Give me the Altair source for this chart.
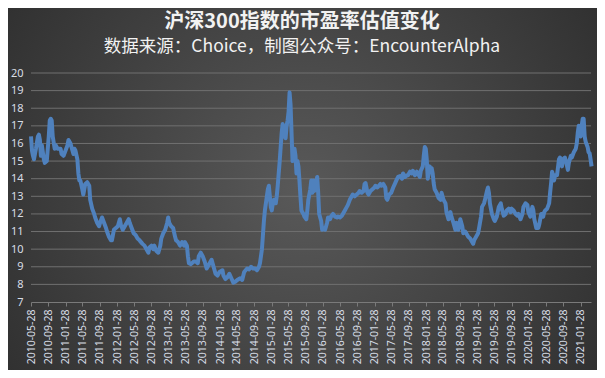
import altair as alt
import pandas as pd

# weekly observations: week offset from 2010-05-28 and P/E value
weeks = [0, 1, 2, 3, 5, 7, 8, 9, 10, 11, 13, 14, 16, 18, 19, 20, 21, 22, 24, 25, 27, 30, 31, 33, 35, 37, 38, 40,
         42, 43, 44, 45, 47, 48, 49, 50, 52, 53, 55, 57, 59, 60, 62, 64, 65, 67, 69, 70, 72, 74, 76, 77, 79, 81,
         82, 84, 86, 88, 90, 91, 93, 95, 97, 99, 100, 102, 104, 106, 108, 110, 113, 115, 117, 119, 120, 122, 124,
         125, 127, 129, 131, 132, 134, 136, 138, 139, 140, 142, 144, 146, 147, 149, 151, 153, 155, 156, 158, 159,
         160, 162, 165, 167, 169, 170, 172, 174, 176, 178, 181, 183, 185, 187, 189, 191, 194, 195, 197, 199, 201,
         203, 205, 207, 209, 212, 214, 216, 219, 221, 223, 225, 227, 229, 231, 232, 233, 234, 235, 236, 237, 238,
         239, 240, 241, 242, 243, 244, 245, 246, 247, 248, 249, 250, 251, 252, 253, 254, 255, 256, 257, 258, 259,
         260, 261, 262, 263, 264, 265, 266, 267, 268, 269, 270, 271, 272, 273, 274, 276, 277, 279, 280, 281, 283,
         284, 285, 286, 287, 288, 289, 290, 291, 292, 294, 295, 297, 298, 300, 301, 303, 304, 306, 308, 310, 311,
         313, 315, 316, 318, 320, 321, 323, 325, 326, 328, 330, 332, 333, 335, 337, 338, 339, 341, 342, 344, 346,
         348, 349, 351, 354, 355, 357, 359, 360, 361, 363, 365, 367, 369, 371, 372, 374, 376, 377, 379, 381, 382,
         384, 386, 387, 389, 391, 393, 394, 395, 397, 398, 399, 400, 401, 402, 403, 404, 405, 406, 407, 408, 409,
         411, 413, 415, 416, 418, 420, 421, 423, 425, 426, 428, 430, 431, 433, 435, 437, 438, 440, 442, 443, 445,
         447, 448, 449, 451, 453, 454, 456, 457, 459, 460, 462, 463, 464, 465, 467, 469, 470, 472, 474, 476, 477,
         479, 481, 482, 484, 486, 487, 489, 491, 493, 494, 496, 498, 499, 501, 503, 504, 506, 508, 509, 510, 512,
         514, 515, 517, 519, 520, 521, 523, 525, 526, 527, 528, 529, 530, 531, 533, 535, 536, 538, 539, 541, 542,
         544, 545, 547, 548, 550, 552, 553, 554, 555, 556, 557, 558, 559, 560, 561, 562, 564, 565, 566, 567, 568]

pe = [16.4, 15.6, 15.3, 15.1, 15.7, 16.4, 16.5, 16.2, 15.3, 15.9, 15.1, 14.9, 15.0, 16.4, 17.3, 17.4, 17.3, 16.4,
      15.7, 15.9, 15.7, 15.7, 15.4, 15.3, 15.6, 15.9, 16.2, 16.0, 15.6, 15.4, 15.7, 15.6, 15.1, 14.3, 13.9, 13.9,
      13.4, 13.1, 13.7, 13.8, 13.6, 12.8, 12.3, 12.0, 11.8, 11.5, 11.3, 11.5, 11.8, 11.5, 11.2, 11.0, 10.7, 10.5,
      10.5, 11.1, 11.2, 11.3, 11.7, 11.4, 11.1, 11.3, 11.5, 11.7, 11.5, 11.2, 10.9, 10.8, 10.6, 10.5, 10.3, 10.2,
      10.0, 9.8, 10.1, 10.2, 10.0, 10.2, 9.9, 9.8, 10.2, 10.6, 10.9, 11.1, 11.5, 11.8, 11.5, 11.3, 11.2, 10.7,
      10.5, 10.4, 10.2, 10.4, 10.2, 10.4, 10.2, 9.6, 9.2, 9.15, 9.3, 9.3, 9.2, 9.6, 9.8, 9.6, 9.3, 8.9, 9.2, 9.4,
      9.0, 8.6, 8.5, 8.7, 8.8, 8.5, 8.3, 8.4, 8.6, 8.35, 8.1, 8.15, 8.25, 8.35, 8.25, 8.7, 8.9, 8.85, 9.0, 8.9,
      8.9, 8.8, 9.0, 9.2, 9.6, 10.0, 10.8, 11.6, 12.2, 12.6, 13.0, 13.4, 13.6, 13.0, 12.4, 12.2, 12.6, 12.8, 12.6,
      12.6, 13.0, 13.6, 14.3, 15.0, 15.8, 16.6, 17.1, 16.9, 16.4, 16.3, 17.0, 17.3, 17.8, 18.9, 18.2, 16.6, 15.0,
      15.6, 15.7, 15.3, 14.3, 15.0, 14.7, 13.9, 13.0, 12.2, 12.0, 11.85, 11.7, 12.2, 12.8, 13.4, 13.9, 13.2, 13.9,
      13.3, 13.5, 13.85, 14.1, 13.2, 12.0, 11.6, 11.1, 11.2, 11.1, 11.5, 11.8, 11.7, 11.85, 12.0, 11.85, 11.8,
      11.85, 11.8, 11.9, 12.0, 12.2, 12.4, 12.5, 12.8, 13.0, 13.1, 13.0, 13.1, 13.2, 13.3, 13.2, 13.3, 13.7,
      13.75, 13.2, 13.1, 13.3, 13.4, 13.5, 13.6, 13.5, 13.7, 13.6, 13.7, 13.5, 12.9, 12.8, 13.1, 13.2, 13.5,
      13.75, 14.0, 14.1, 14.15, 14.0, 14.3, 14.1, 14.2, 14.2, 14.4, 14.3, 14.45, 14.2, 14.4, 14.2, 14.1, 14.45,
      14.7, 15.3, 15.8, 15.7, 15.1, 14.0, 14.3, 14.7, 14.5, 14.6, 14.3, 13.75, 13.4, 13.2, 12.9, 12.8, 13.2,
      12.8, 12.6, 12.1, 11.7, 12.1, 11.85, 11.5, 11.1, 11.5, 11.1, 11.7, 11.3, 10.9, 11.0, 10.8, 10.7, 10.6,
      10.4, 10.3, 10.5, 10.7, 10.9, 11.2, 11.85, 12.4, 12.6, 12.8, 13.3, 13.5, 13.2, 12.6, 12.0, 11.7, 11.6,
      11.85, 12.4, 12.6, 12.3, 11.9, 12.0, 12.2, 12.3, 12.1, 12.3, 12.2, 12.0, 11.9, 12.0, 11.7, 12.0, 12.4,
      12.6, 12.5, 12.1, 11.85, 12.4, 12.2, 11.7, 11.2, 11.2, 11.4, 12.0, 11.85, 12.1, 12.2, 12.3, 12.6, 13.2,
      13.75, 14.4, 14.2, 13.9, 14.2, 14.2, 15.1, 15.2, 14.7, 15.1, 15.2, 15.0, 14.5, 14.9, 15.3, 15.2, 15.5,
      15.7, 16.0, 16.6, 17.0, 16.7, 16.4, 17.0, 17.4, 17.4, 16.4, 16.1, 15.8, 15.5, 15.45, 15.1, 14.7]

tick_labels = ["2010-05-28", "2010-09-28", "2011-01-28", "2011-05-28", "2011-09-28", "2012-01-28",
               "2012-05-28", "2012-09-28", "2013-01-28", "2013-05-28", "2013-09-28", "2014-01-28",
               "2014-05-28", "2014-09-28", "2015-01-28", "2015-05-28", "2015-09-28", "2016-01-28",
               "2016-05-28", "2016-09-28", "2017-01-28", "2017-05-28", "2017-09-28", "2018-01-28",
               "2018-05-28", "2018-09-28", "2019-01-28", "2019-05-28", "2019-09-28", "2020-01-28",
               "2020-05-28", "2020-09-28", "2021-01-28"]

y_ticks = list(range(7, 21))

title_text = "沪深300指数的市盈率估值变化"
subtitle_text = "数据来源：Choice，制图公众号：EncounterAlpha"

start = pd.Timestamp("2010-05-28")
df = pd.DataFrame({
    "date": [start + pd.Timedelta(days=7 * w) for w in weeks],
    "pe": pe,
})


def to_dt(s):
    y, m, d = (int(p) for p in s.split("-"))
    return alt.DateTime(year=y, month=m, date=d)


x_values = [to_dt(s) for s in tick_labels]
x_domain = [to_dt("2010-05-28"), to_dt("2021-04-12")]

W, H = 560, 229
PL, PT, PR, PB = 23, 65, 6, 68
CX = 302 - 8 - PL  # horizontal centre of the page, in plot coordinates

y_scale = alt.Scale(domain=[7, 20], nice=False, zero=False)
y_axis = alt.Axis(values=y_ticks, labelFontSize=11, labelColor="#d8dde6", labelFont="Noto Sans",
                  labelPadding=8, ticks=False, domain=False, grid=False, title=None,
                  labelOverlap=False, labelFlush=False, zindex=1)
one = pd.DataFrame({"k": [0]})

bg = alt.Chart(one).mark_rect(
    fill={"gradient": "radial", "x1": 0.5, "y1": 0.5, "r1": 0, "x2": 0.5, "y2": 0.5, "r2": 0.75,
          "stops": [{"offset": 0, "color": "#595959"}, {"offset": 1, "color": "#262626"}]},
    strokeWidth=0,
).encode(
    x=alt.value(-PL), x2=alt.value(W + PR),
    y=alt.value(-PT), y2=alt.value(H + PB),
)

grid = alt.Chart(pd.DataFrame({"g": y_ticks[1:]})).mark_rule(color="#707070", strokeWidth=1).encode(
    y=alt.Y("g:Q", scale=y_scale, axis=y_axis),
    x=alt.value(0), x2=alt.value(W),
)

line = alt.Chart(df).mark_line(color="#4f81bd", strokeWidth=4, strokeJoin="round").encode(
    x=alt.X("date:T",
            scale=alt.Scale(domain=x_domain),
            axis=alt.Axis(values=x_values, format="%Y-%m-%d", labelAngle=-90, labelAlign="right",
                          labelBaseline="middle", labelFontSize=10.5, labelColor="#d8dde6",
                          labelFont="Noto Sans", labelPadding=3, tickSize=4, tickColor="#7a7a7a",
                          domainColor="#7a7a7a", grid=False, title=None, labelOverlap=False,
                          labelFlush=False, zindex=1)),
    y=alt.Y("pe:Q", scale=y_scale, axis=y_axis),
)

title = alt.Chart(one).mark_text(
    text=title_text, font="Noto Sans CJK SC", fontSize=20, fontWeight="bold", color="#f2f2f2",
    align="center", baseline="middle",
).encode(x=alt.value(CX), y=alt.value(22 - 8 - PT))

subtitle = alt.Chart(one).mark_text(
    text=subtitle_text, font="Noto Sans CJK SC", fontSize=17.5, color="#f2f2f2",
    align="center", baseline="middle",
).encode(x=alt.value(CX), y=alt.value(47 - 8 - PT))

chart = alt.layer(bg, grid, line, title, subtitle).properties(
    width=W, height=H,
    padding={"left": PL, "top": PT, "right": PR, "bottom": PB},
    autosize=alt.AutoSizeParams(type="none"),
).configure_view(stroke=None).configure(background="#2a2a2a")

chart.save("out.html", embed_options={"renderer": "svg", "actions": False})
